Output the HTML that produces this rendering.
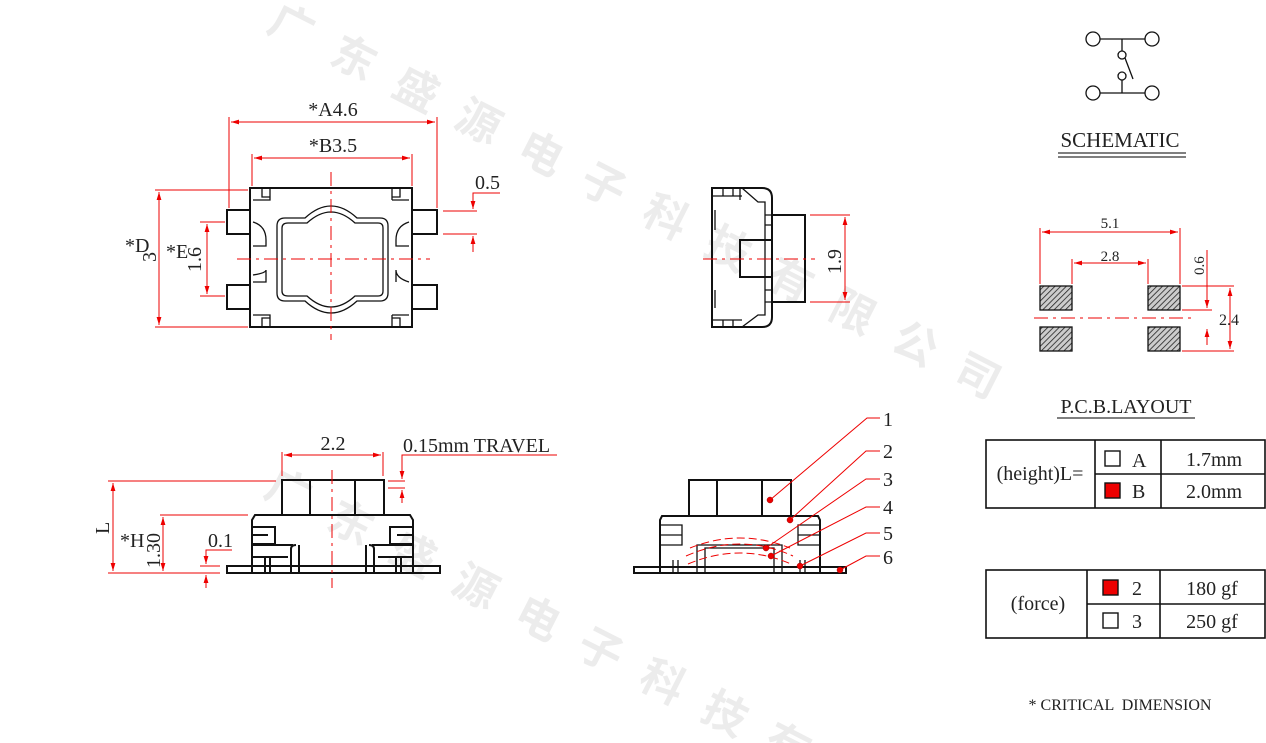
<!DOCTYPE html>
<html><head><meta charset="utf-8"><style>
html,body{margin:0;padding:0;background:#fff;width:1266px;height:743px;overflow:hidden}
svg{display:block}
text{font-family:"Liberation Serif",serif;fill:#222}
.k{stroke:#111;stroke-width:2;fill:none}
.k1{stroke:#111;stroke-width:1.3;fill:none}
.r{stroke:#e00;stroke-width:1;fill:none}
.rd{stroke:#e00;stroke-width:1;fill:none;stroke-dasharray:14 5 3 5}
.wm{font-family:"Liberation Sans","Noto Sans CJK SC",sans-serif;fill:#000;opacity:.07;font-size:44px;font-weight:bold}
</style></head><body>
<svg width="1266" height="743" viewBox="0 0 1266 743" xmlns="http://www.w3.org/2000/svg">
<defs>
<marker id="a" viewBox="0 0 10 10" refX="10" refY="5" markerWidth="8" markerHeight="8" orient="auto-start-reverse"><path d="M0,2 L10,5 L0,8 z" fill="#e00"/></marker>
<pattern id="h" width="4" height="4" patternUnits="userSpaceOnUse" patternTransform="rotate(45)"><rect width="4" height="4" fill="#ccc"/><line x1="0" y1="0" x2="0" y2="4" stroke="#222" stroke-width="1.6"/></pattern>
</defs>
<!-- watermark -->
<text class="wm" transform="translate(265,30) rotate(27)" letter-spacing="26">广东盛源电子科技有限公司</text>
<text class="wm" transform="translate(262,495) rotate(27)" letter-spacing="26">广东盛源电子科技有限公司</text>

<!-- TOP VIEW -->
<rect class="k" x="250" y="188" width="162" height="139"/>
<rect class="k" x="227" y="210" width="23" height="24"/>
<rect class="k" x="227" y="285" width="23" height="24"/>
<rect class="k" x="412" y="210" width="25" height="24"/>
<rect class="k" x="412" y="285" width="25" height="24"/>
<path class="k1" d="M253,200 H270 V188 M262,188 V197 H270 M392,200 H409 M392,188 V200 M400,188 V197 H392 M253,315 H270 V327 M262,327 V318 H270 M392,315 H409 M392,327 V315 M400,327 V318 H392"/>
<path class="k1" d="M253,222 Q266,226 266,240 V246 H253 M253,275 Q266,273 266,270 V282 H253 M409,222 Q396,226 396,240 V246 H409 M409,282 Q396,278 396,270 V282"/>
<path class="k1" d="M285,218 H305 Q318,206 331,206 Q344,206 357,218 H380 Q388,218 388,226 V293 Q388,301 380,301 H357 Q344,313 331,313 Q318,313 305,301 H285 Q277,301 277,293 V226 Q277,218 285,218 Z"/>
<path class="k1" d="M288,223 H307 Q319,212 331,212 Q343,212 355,223 H378 Q383,223 383,228 V291 Q383,296 378,296 H355 Q343,307 331,307 Q319,307 307,296 H288 Q282,296 282,291 V228 Q282,223 288,223 Z"/>
<line class="rd" x1="331" y1="172" x2="331" y2="340"/>
<line class="rd" x1="237" y1="259" x2="430" y2="259"/>
<line class="r" x1="229" y1="117" x2="229" y2="208"/>
<line class="r" x1="437" y1="117" x2="437" y2="208"/>
<line class="r" x1="231" y1="122" x2="435" y2="122" marker-start="url(#a)" marker-end="url(#a)"/>
<text x="333" y="116" font-size="20" text-anchor="middle">*A4.6</text>
<line class="r" x1="252" y1="154" x2="252" y2="186"/>
<line class="r" x1="412" y1="154" x2="412" y2="186"/>
<line class="r" x1="254" y1="158" x2="410" y2="158" marker-start="url(#a)" marker-end="url(#a)"/>
<text x="333" y="152" font-size="20" text-anchor="middle">*B3.5</text>
<line class="r" x1="155" y1="190" x2="248" y2="190"/>
<line class="r" x1="155" y1="327" x2="248" y2="327"/>
<line class="r" x1="159" y1="192" x2="159" y2="325" marker-start="url(#a)" marker-end="url(#a)"/>
<text x="125" y="252" font-size="20">*D</text>
<text transform="translate(156,262) rotate(-90)" font-size="20">3</text>
<line class="r" x1="200" y1="222" x2="225" y2="222"/>
<line class="r" x1="200" y1="296" x2="225" y2="296"/>
<line class="r" x1="207" y1="224" x2="207" y2="294" marker-start="url(#a)" marker-end="url(#a)"/>
<text x="166" y="258" font-size="20">*E</text>
<text transform="translate(201,272) rotate(-90)" font-size="20">1.6</text>
<line class="r" x1="443" y1="211" x2="477" y2="211"/>
<line class="r" x1="443" y1="234" x2="477" y2="234"/>
<path class="r" d="M500,193 H473 V209" marker-end="url(#a)"/>
<line class="r" x1="473" y1="252" x2="473" y2="236" marker-end="url(#a)"/>
<text x="475" y="189" font-size="20">0.5</text>

<!-- SIDE VIEW -->
<path class="k" d="M712,188 H762 Q772,188 772,198 V317 Q772,327 762,327 H712 Z"/>
<rect class="k" x="772" y="215" width="33" height="87"/>
<rect class="k" x="740" y="240" width="32" height="37"/>
<path class="k1" d="M712,196 H742 M712,320 H742 M723,188 V196 M733,188 V196 M723,320 V327 M733,320 V327 M740,188 V200 M742,188 L758,202 H765 V315 H758 L742,327 M715,210 V230 M715,290 V308 M765,215 H772 M765,302 H772 M765,225 H772 M765,290 H772"/>
<line class="rd" x1="703" y1="259" x2="815" y2="259"/>
<line class="r" x1="810" y1="215" x2="850" y2="215"/>
<line class="r" x1="810" y1="302" x2="850" y2="302"/>
<line class="r" x1="845" y1="217" x2="845" y2="300" marker-start="url(#a)" marker-end="url(#a)"/>
<text transform="translate(841,274) rotate(-90)" font-size="20">1.9</text>

<!-- FRONT VIEW -->
<rect class="k" x="227" y="566" width="213" height="7"/>
<rect class="k" x="282" y="480" width="102" height="35"/>
<path class="k" d="M310,480 V515 M355,480 V515"/>
<path class="k" d="M252,573 V520 L255,515 H410 L413,520 V573"/>
<path class="k" d="M252,527 H275 V544 H252 M252,535 H268 M413,527 H390 V544 H413 M413,535 H397 M252,545 H293 M413,545 H372 M291,573 V549 Q291,545 296,545 M374,573 V549 Q374,545 369,545 M299,573 V545 M366,573 V545 M265,557 V573 M270,557 V573 M396,557 V573 M401,557 V573 M252,557 H288 M413,557 H378"/>
<line class="rd" x1="332" y1="470" x2="332" y2="588"/>
<line class="r" x1="282" y1="452" x2="282" y2="476"/>
<line class="r" x1="383" y1="452" x2="383" y2="476"/>
<line class="r" x1="284" y1="455" x2="381" y2="455" marker-start="url(#a)" marker-end="url(#a)"/>
<text x="333" y="450" font-size="20" text-anchor="middle">2.2</text>
<line class="r" x1="388" y1="481" x2="405" y2="481"/>
<line class="r" x1="388" y1="488" x2="405" y2="488"/>
<path class="r" d="M557,455 H402 V479" marker-end="url(#a)"/>
<line class="r" x1="402" y1="503" x2="402" y2="490" marker-end="url(#a)"/>
<text x="403" y="452" font-size="20">0.15mm TRAVEL</text>
<line class="r" x1="108" y1="481" x2="276" y2="481"/>
<line class="r" x1="160" y1="515" x2="248" y2="515"/>
<line class="r" x1="108" y1="573" x2="220" y2="573"/>
<line class="r" x1="113" y1="483" x2="113" y2="571" marker-start="url(#a)" marker-end="url(#a)"/>
<line class="r" x1="163" y1="517" x2="163" y2="571" marker-start="url(#a)" marker-end="url(#a)"/>
<text transform="translate(109,534) rotate(-90)" font-size="20">L</text>
<text x="120" y="547" font-size="20">*H</text>
<text transform="translate(160,568) rotate(-90)" font-size="20">1.30</text>
<line class="r" x1="200" y1="566" x2="220" y2="566"/>
<path class="r" d="M232,550 H206 V564" marker-end="url(#a)"/>
<line class="r" x1="206" y1="588" x2="206" y2="575" marker-end="url(#a)"/>
<text x="208" y="547" font-size="20">0.1</text>

<!-- FRONT SECTION -->
<rect class="k" x="634" y="567" width="212" height="6"/>
<rect class="k" x="689" y="480" width="102" height="36"/>
<path class="k" d="M717,480 V516 M762,480 V516"/>
<path class="k" d="M660,573 V520 L662,516 H818 L820,520 V573"/>
<path class="k1" d="M660,525 H682 V545 H660 M660,535 H682 M820,525 H798 V545 H820 M820,535 H798 M697,573 V545 H782 V573 M705,573 V548 H774 V573 M673,560 V573 M678,560 V573 M800,560 V573 M805,560 V573"/>
<path class="r" d="M686,556 Q740,532 793,556 M688,564 Q740,542 791,564 M690,548 Q740,528 790,548" stroke-dasharray="8 4"/>
<g fill="#e00" stroke="#900" stroke-width=".5">
<circle cx="770" cy="500" r="3"/><circle cx="790" cy="520" r="3"/><circle cx="766" cy="548" r="3"/><circle cx="771" cy="556" r="3"/><circle cx="800" cy="566" r="3"/><circle cx="840" cy="570" r="3"/></g>
<path class="r" d="M770,500 L867,418 H880 M790,520 L866,451 H880 M766,548 L866,479 H880 M771,556 L866,507 H880 M800,566 L866,533 H880 M840,570 L866,556 H880"/>
<g font-size="20"><text x="883" y="426">1</text><text x="883" y="458">2</text><text x="883" y="486">3</text><text x="883" y="514">4</text><text x="883" y="540">5</text><text x="883" y="564">6</text></g>

<!-- SCHEMATIC -->
<g class="k1" stroke-width="1.5">
<circle cx="1093" cy="39" r="7"/><circle cx="1152" cy="39" r="7"/><circle cx="1093" cy="93" r="7"/><circle cx="1152" cy="93" r="7"/>
<line x1="1100" y1="39" x2="1145" y2="39"/><line x1="1100" y1="93" x2="1145" y2="93"/>
<line x1="1122" y1="39" x2="1122" y2="51"/><circle cx="1122" cy="55" r="4"/>
<line x1="1125" y1="58" x2="1133" y2="79"/><circle cx="1122" cy="76" r="4"/>
<line x1="1122" y1="80" x2="1122" y2="93"/>
</g>
<text x="1120" y="147" font-size="21" text-anchor="middle">SCHEMATIC</text>
<line x1="1058" y1="153" x2="1186" y2="153" stroke="#333" stroke-width="1.3"/>
<line x1="1058" y1="157" x2="1186" y2="157" stroke="#333" stroke-width="1.3"/>

<!-- PCB -->
<g stroke="#111" stroke-width="1.3" fill="url(#h)">
<rect x="1040" y="286" width="32" height="24"/><rect x="1148" y="286" width="32" height="24"/>
<rect x="1040" y="327" width="32" height="24"/><rect x="1148" y="327" width="32" height="24"/></g>
<line class="rd" x1="1034" y1="318" x2="1192" y2="318"/>
<line class="r" x1="1040" y1="228" x2="1040" y2="284"/>
<line class="r" x1="1180" y1="228" x2="1180" y2="284"/>
<line class="r" x1="1042" y1="232" x2="1178" y2="232" marker-start="url(#a)" marker-end="url(#a)"/>
<text x="1110" y="228" font-size="15" text-anchor="middle">5.1</text>
<line class="r" x1="1072" y1="259" x2="1072" y2="284"/>
<line class="r" x1="1148" y1="259" x2="1148" y2="284"/>
<line class="r" x1="1074" y1="263" x2="1146" y2="263" marker-start="url(#a)" marker-end="url(#a)"/>
<text x="1110" y="261" font-size="15" text-anchor="middle">2.8</text>
<line class="r" x1="1182" y1="286" x2="1234" y2="286"/>
<line class="r" x1="1182" y1="310" x2="1212" y2="310"/>
<line class="r" x1="1182" y1="351" x2="1234" y2="351"/>
<line class="r" x1="1207" y1="250" x2="1207" y2="308" marker-end="url(#a)"/>
<line class="r" x1="1207" y1="345" x2="1207" y2="329" marker-end="url(#a)"/>
<text transform="translate(1204,275) rotate(-90)" font-size="15">0.6</text>
<line class="r" x1="1230" y1="288" x2="1230" y2="349" marker-start="url(#a)" marker-end="url(#a)"/>
<text x="1219" y="325" font-size="16">2.4</text>
<text x="1126" y="413" font-size="20" text-anchor="middle">P.C.B.LAYOUT</text>
<line x1="1057" y1="418" x2="1195" y2="418" stroke="#333" stroke-width="1.3"/>

<!-- TABLES -->
<g stroke="#111" stroke-width="1.6" fill="none">
<rect x="986" y="440" width="279" height="68"/>
<line x1="1095" y1="474" x2="1265" y2="474"/><line x1="1095" y1="440" x2="1095" y2="508"/><line x1="1161" y1="440" x2="1161" y2="508"/>
<rect x="986" y="570" width="279" height="68"/>
<line x1="1087" y1="604" x2="1265" y2="604"/><line x1="1087" y1="570" x2="1087" y2="638"/><line x1="1160" y1="570" x2="1160" y2="638"/>
</g>
<g stroke="#111" stroke-width="1.4">
<rect x="1105" y="451" width="15" height="15" fill="none"/>
<rect x="1105" y="483" width="15" height="15" fill="#e00"/>
<rect x="1103" y="580" width="15" height="15" fill="#e00"/>
<rect x="1103" y="613" width="15" height="15" fill="none"/>
</g>
<g font-size="20">
<text x="1040" y="480" text-anchor="middle">(height)L=</text>
<text x="1132" y="467">A</text><text x="1132" y="498">B</text>
<text x="1214" y="466" text-anchor="middle">1.7mm</text><text x="1214" y="498" text-anchor="middle">2.0mm</text>
<text x="1038" y="610" text-anchor="middle">(force)</text>
<text x="1132" y="595">2</text><text x="1132" y="628">3</text>
<text x="1212" y="595" text-anchor="middle">180 gf</text><text x="1212" y="628" text-anchor="middle">250 gf</text>
</g>
<text x="1120" y="710" font-size="16" text-anchor="middle" xml:space="preserve">* CRITICAL  DIMENSION</text>
</svg>
</body></html>
